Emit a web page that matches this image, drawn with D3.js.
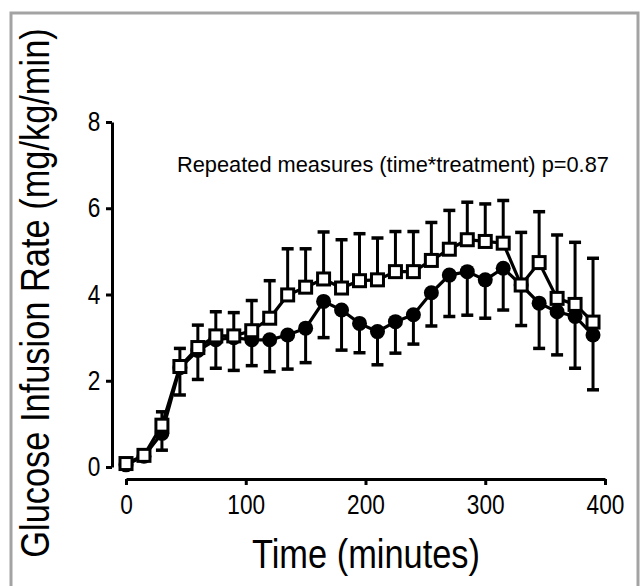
<!DOCTYPE html>
<html>
<head>
<meta charset="utf-8">
<script src="https://cdn.jsdelivr.net/npm/d3@7"></script>
<style>
  body { margin: 0; background: #fff; }
  text { font-family: "Liberation Sans", Arial, sans-serif; fill: #000; }
</style>
</head>
<body>
<svg id="chart" width="641" height="586"></svg>
<script>
// time points (minutes)
const times = [0, 15, 30, 45, 60, 75, 90, 105, 120, 135, 150, 165, 180, 195,
  210, 225, 240, 255, 270, 285, 300, 315, 330, 345, 360, 375, 390]

// open squares, mean and upper error
const openMean = [0.08, 0.27, 0.97, 2.33, 2.77, 3.04, 3.04, 3.16, 3.45, 3.99, 4.17, 4.36, 4.15, 4.32,
  4.34, 4.53, 4.53, 4.79, 5.05, 5.27, 5.23, 5.19, 4.22, 4.74, 3.91, 3.77, 3.36]
const openErr = [0, 0.03, 0.31, 0.42, 0.52, 0.56, 0.54, 0.70, 0.87, 1.07, 0.89, 1.09, 1.12, 1.09,
  0.97, 0.93, 0.93, 0.88, 0.90, 0.87, 0.87, 0.99, 1.22, 1.18, 1.47, 1.44, 1.48]

// filled circles, mean and lower error
const filledMean = [0.05, 0.25, 0.78, 2.30, 2.70, 2.95, 3.00, 2.95, 2.95, 3.06, 3.22, 3.84, 3.64, 3.33,
  3.14, 3.37, 3.53, 4.04, 4.45, 4.53, 4.34, 4.61, 4.22, 3.80, 3.60, 3.49, 3.06]
const filledErr = [0, 0.03, 0.39, 0.63, 0.67, 0.66, 0.76, 0.60, 0.74, 0.79, 0.80, 0.84, 0.93, 0.68,
  0.77, 0.73, 0.68, 0.77, 0.96, 1.01, 0.89, 0.97, 0.94, 1.05, 1.00, 1.20, 1.27]

const xTicks = [0, 100, 200, 300, 400]
const yTicks = [0, 2, 4, 6, 8]
const note = "Repeated measures (time*treatment) p=0.87"

const svg = d3.select("#chart")

// grey frame round the figure
svg.append("path")
  .attr("d", "M11,590 V13 H638 V590")
  .attr("fill", "none")
  .attr("stroke", "#a3a3a3")
  .attr("stroke-width", 3)

const x = d3.scaleLinear().domain([0, 400]).range([126, 605])
const y = d3.scaleLinear().domain([0, 8]).range([467, 122])

// axes
const xAxis = svg.append("g")
  .attr("transform", "translate(0,479)")
  .call(d3.axisBottom(x).tickValues(xTicks).tickSize(6).tickSizeOuter(0).tickPadding(10))
const yAxis = svg.append("g")
  .attr("transform", "translate(112,0)")
  .call(d3.axisLeft(y).tickValues(yTicks).tickSize(6).tickSizeOuter(0).tickPadding(8))

svg.selectAll(".domain, .tick line")
  .attr("stroke", "#000")
  .attr("stroke-width", 3)
xAxis.selectAll("text")
  .attr("font-size", 27)
  .attr("transform", "scale(0.84,1)")
yAxis.selectAll("text")
  .attr("font-size", 27)
  .attr("transform", "scale(0.84,1)")
svg.selectAll(".tick text").style("font-family", "'Liberation Sans', Arial, sans-serif")

// axis titles
svg.append("text")
  .attr("transform", "translate(366,568) scale(0.86,1)")
  .attr("text-anchor", "middle")
  .attr("font-size", 40)
  .text("Time (minutes)")

svg.append("text")
  .attr("transform", "translate(49,293) rotate(-90) scale(0.86,1)")
  .attr("text-anchor", "middle")
  .attr("font-size", 40)
  .text("Glucose Infusion Rate (mg/kg/min)")

svg.append("text")
  .attr("x", 177)
  .attr("y", 172)
  .attr("font-size", 21.8)
  .text(note)

const line = d3.line()
  .x(d => x(d[0]))
  .y(d => y(d[1]))

function drawSeries(means, errs, dir, marker) {
  const pts = times.map((t, i) => [t, means[i], errs[i]])
  const g = svg.append("g")

  // error bars (one side only)
  const bars = g.selectAll(".bar").data(pts).join("g")
  bars.append("line")
    .attr("x1", d => x(d[0])).attr("x2", d => x(d[0]))
    .attr("y1", d => y(d[1])).attr("y2", d => y(d[1] + dir * d[2]))
    .attr("stroke", "#000").attr("stroke-width", 3)
  bars.append("line")
    .attr("x1", d => x(d[0]) - 6).attr("x2", d => x(d[0]) + 6)
    .attr("y1", d => y(d[1] + dir * d[2])).attr("y2", d => y(d[1] + dir * d[2]))
    .attr("stroke", "#000").attr("stroke-width", 3.5)

  g.append("path")
    .datum(pts)
    .attr("d", line)
    .attr("fill", "none")
    .attr("stroke", "#000")
    .attr("stroke-width", 3.2)

  if (marker == "circle") {
    g.selectAll("circle").data(pts).join("circle")
      .attr("cx", d => x(d[0]))
      .attr("cy", d => y(d[1]))
      .attr("r", 7.5)
      .attr("fill", "#000")
  } else {
    g.selectAll("rect").data(pts).join("rect")
      .attr("x", d => x(d[0]) - 6)
      .attr("y", d => y(d[1]) - 6)
      .attr("width", 12)
      .attr("height", 12)
      .attr("fill", "#fff")
      .attr("stroke", "#000")
      .attr("stroke-width", 3)
  }
}

drawSeries(filledMean, filledErr, -1, "circle")
drawSeries(openMean, openErr, 1, "square")
</script>
</body>
</html>
